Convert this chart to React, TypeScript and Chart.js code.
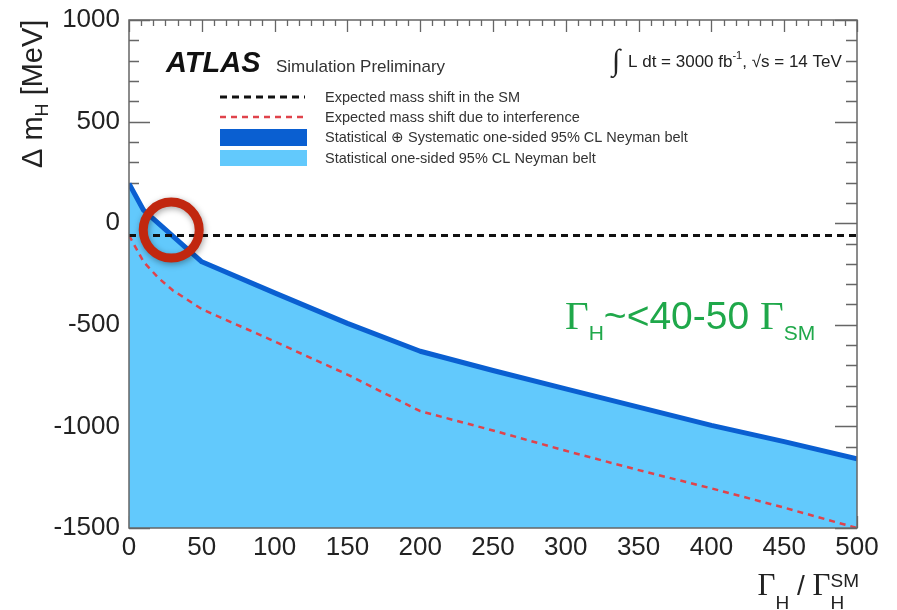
import React, { useEffect, useRef } from 'react';
import { Chart, registerables } from 'chart.js';

Chart.register(...registerables);

// ---- data ----
const xTickValues = [0, 50, 100, 150, 200, 250, 300, 350, 400, 450, 500];
const yTickValues = [-1500, -1000, -500, 0, 500, 1000];

// upper edge of the one-sided 95% CL Neyman belt (MeV) vs Gamma_H / Gamma_H^SM
const beltX = [0, 10, 50, 100, 150, 200, 250, 300, 350, 400, 450, 500];
const beltY = [195, 64, -190, -343, -493, -630, -725, -815, -905, -995, -1075, -1160];

// expected mass shift due to interference (MeV)
const interfX = [0, 5, 10, 20, 30, 50, 100, 150, 200, 250, 300, 350, 400, 450, 500];
const interfY = [-60, -125, -190, -268, -330, -423, -582, -745, -925, -1020, -1120, -1215, -1305, -1400, -1500];

// expected mass shift in the SM (MeV)
const smX = [0, 500];
const smY = [-60, -60];

// highlighted crossing point
const markerX = [29];
const markerY = [-34];

const legendLabels = [
  'Expected mass shift in the SM',
  'Expected mass shift due to interference',
  'Statistical \u2295 Systematic one-sided 95% CL Neyman belt',
  'Statistical one-sided 95% CL Neyman belt',
];

const SANS = '"Liberation Sans", Arial, Helvetica, sans-serif';
const SERIF = '"Liberation Serif", "Times New Roman", serif';
const DARK_BLUE = '#0a5fd1';
const LIGHT_BLUE = '#62c9fc';
const RED = '#e0434b';
const GREEN = '#1fa84a';

const zip = (xs: number[], ys: number[]) => xs.map((x, i) => ({ x, y: ys[i] }));

type Seg = { t: string; font: string; dy?: number; sameX?: boolean };

function drawSegs(ctx: CanvasRenderingContext2D, segs: Seg[], x: number, y: number) {
  let cx = x;
  let prevStart = x;
  for (const s of segs) {
    ctx.font = s.font;
    const start = s.sameX ? prevStart : cx;
    ctx.fillText(s.t, start, y + (s.dy || 0));
    const w = ctx.measureText(s.t).width;
    prevStart = start;
    cx = Math.max(cx, start + w);
  }
  return cx;
}

function segsWidth(ctx: CanvasRenderingContext2D, segs: Seg[]) {
  let cx = 0;
  let prevStart = 0;
  for (const s of segs) {
    ctx.font = s.font;
    const start = s.sameX ? prevStart : cx;
    const w = ctx.measureText(s.t).width;
    prevStart = start;
    cx = Math.max(cx, start + w);
  }
  return cx;
}

const overlay = {
  id: 'overlay',
  beforeDatasetsDraw(chart: any) {
    const { ctx, chartArea, scales } = chart;
    const { left, right, top, bottom } = chartArea;
    const xs = scales.x;
    const ys = scales.y;
    ctx.save();
    ctx.strokeStyle = '#666';
    ctx.lineWidth = 1.3;
    ctx.beginPath();
    const xStep = xTickValues[1] - xTickValues[0];
    const xMax = xTickValues[xTickValues.length - 1];
    const nSubX = 6;
    for (let i = 0; i <= (xMax / xStep) * nSubX; i++) {
      const v = (i * xStep) / nSubX;
      const px = Math.round(xs.getPixelForValue(v)) + 0.5;
      const major = i % nSubX === 0;
      const len = major ? 12 : 6;
      ctx.moveTo(px, top);
      ctx.lineTo(px, top + len);
      ctx.moveTo(px, bottom);
      ctx.lineTo(px, bottom - len);
    }
    const yStep = yTickValues[1] - yTickValues[0];
    const yMin = yTickValues[0];
    const yMax = yTickValues[yTickValues.length - 1];
    const nSubY = 5;
    for (let i = 0; i <= ((yMax - yMin) / yStep) * nSubY; i++) {
      const v = yMin + (i * yStep) / nSubY;
      const py = Math.round(ys.getPixelForValue(v)) + 0.5;
      const major = i % nSubY === 0;
      ctx.moveTo(left, py);
      ctx.lineTo(left + (major ? 21 : 10), py);
      ctx.moveTo(right, py);
      ctx.lineTo(right - (major ? 22 : 11), py);
    }
    ctx.stroke();
    ctx.restore();
  },
  beforeDatasetDraw(chart: any, args: any) {
    if (args.meta && args.meta.label === 'marker') {
      const ctx = chart.ctx;
      ctx.save();
      ctx.shadowColor = 'rgba(0,0,0,0.35)';
      ctx.shadowBlur = 6;
      ctx.shadowOffsetX = 1;
      ctx.shadowOffsetY = 2;
    }
  },
  afterDatasetDraw(chart: any, args: any) {
    if (args.meta && args.meta.label === 'marker') {
      chart.ctx.restore();
    }
  },
  afterDatasetsDraw(chart: any) {
    const { ctx, chartArea } = chart;
    const { left, right, top, bottom } = chartArea;
    ctx.save();
    // frame
    ctx.strokeStyle = '#666';
    ctx.lineWidth = 1.5;
    ctx.strokeRect(left, top, right - left, bottom - top);

    // ATLAS label
    ctx.fillStyle = '#111';
    ctx.textBaseline = 'alphabetic';
    ctx.textAlign = 'left';
    ctx.font = `italic bold 29px ${SANS}`;
    ctx.fillText('ATLAS', 166, 72);
    ctx.fillStyle = '#333';
    ctx.font = `17px ${SANS}`;
    ctx.fillText('Simulation Preliminary', 276, 72);

    // luminosity label
    ctx.fillStyle = '#222';
    ctx.font = `30px ${SERIF}`;
    ctx.fillText('\u222B', 612, 70);
    drawSegs(ctx, [
      { t: 'L dt = 3000 fb', font: `17px ${SANS}` },
      { t: '-1', font: `11px ${SANS}`, dy: -8 },
      { t: ', \u221As = 14 TeV', font: `17px ${SANS}` },
    ], 628, 67);

    // legend
    const lx0 = 220;
    const lx1 = 305;
    const rows = [97, 117, 137.5, 158];
    ctx.lineCap = 'butt';
    ctx.beginPath();
    ctx.setLineDash([7, 5]);
    ctx.strokeStyle = '#111';
    ctx.lineWidth = 3;
    ctx.moveTo(lx0, rows[0]);
    ctx.lineTo(lx1, rows[0]);
    ctx.stroke();
    ctx.beginPath();
    ctx.setLineDash([6, 5]);
    ctx.strokeStyle = RED;
    ctx.lineWidth = 2.5;
    ctx.moveTo(lx0, rows[1]);
    ctx.lineTo(lx1, rows[1]);
    ctx.stroke();
    ctx.setLineDash([]);
    ctx.fillStyle = DARK_BLUE;
    ctx.fillRect(lx0, rows[2] - 8.5, 87, 17);
    ctx.fillStyle = LIGHT_BLUE;
    ctx.fillRect(lx0, rows[3] - 8, 87, 16);
    ctx.fillStyle = '#333';
    ctx.font = `14.5px ${SANS}`;
    ctx.textBaseline = 'middle';
    legendLabels.forEach((lab, i) => ctx.fillText(lab, 325, rows[i] + 0.5));

    // green annotation
    ctx.textBaseline = 'alphabetic';
    ctx.fillStyle = GREEN;
    drawSegs(ctx, [
      { t: '\u0393', font: `41px ${SERIF}` },
      { t: 'H', font: `21px ${SANS}`, dy: 11 },
      { t: '~<40-50 ', font: `39px ${SANS}` },
      { t: '\u0393', font: `41px ${SERIF}` },
      { t: 'SM', font: `21px ${SANS}`, dy: 11 },
    ], 565, 329);

    // x-axis title
    ctx.fillStyle = '#222';
    const xt: Seg[] = [
      { t: '\u0393', font: `31px ${SERIF}` },
      { t: 'H', font: `19px ${SANS}`, dy: 14 },
      { t: ' / ', font: `28px ${SANS}` },
      { t: '\u0393', font: `31px ${SERIF}` },
      { t: 'SM', font: `19px ${SANS}`, dy: -8 },
      { t: 'H', font: `19px ${SANS}`, dy: 14, sameX: true },
    ];
    const xw = segsWidth(ctx, xt);
    drawSegs(ctx, xt, 859 - xw, 595);

    // y-axis title
    ctx.save();
    ctx.translate(42, 168);
    ctx.rotate(-Math.PI / 2);
    const yt: Seg[] = [
      { t: '\u0394 m', font: `29px ${SANS}` },
      { t: 'H', font: `18px ${SANS}`, dy: 6 },
      { t: ' [MeV]', font: `29px ${SANS}` },
    ];
    drawSegs(ctx, yt, 0, 0);
    ctx.restore();

    ctx.restore();
  },
};

export default function App() {
  const canvasRef = useRef<HTMLCanvasElement | null>(null);

  useEffect(() => {
    const canvas = canvasRef.current;
    if (!canvas) return;
    const chart = new Chart(canvas, {
      type: 'line',
      data: {
        datasets: [
          {
            type: 'scatter',
            label: 'marker',
            data: zip(markerX, markerY),
            pointRadius: 28,
            pointHoverRadius: 28,
            pointBorderWidth: 9,
            pointBorderColor: '#c1270f',
            pointBackgroundColor: 'rgba(0,0,0,0)',
            showLine: false,
            clip: false,
            order: 0,
          } as any,
          {
            label: legendLabels[0],
            data: zip(smX, smY),
            borderColor: '#111',
            borderWidth: 3,
            borderDash: [7, 5],
            pointRadius: 0,
            fill: false,
            order: 1,
          },
          {
            label: legendLabels[1],
            data: zip(interfX, interfY),
            borderColor: RED,
            borderWidth: 2.5,
            borderDash: [6, 5],
            pointRadius: 0,
            fill: false,
            order: 2,
          },
          {
            label: legendLabels[2],
            data: zip(beltX, beltY),
            borderColor: DARK_BLUE,
            borderWidth: 5,
            borderJoinStyle: 'round',
            pointRadius: 0,
            fill: false,
            order: 3,
          },
          {
            label: legendLabels[3],
            data: zip(beltX, beltY),
            borderWidth: 0,
            borderColor: LIGHT_BLUE,
            backgroundColor: LIGHT_BLUE,
            pointRadius: 0,
            fill: 'start',
            order: 4,
          },
        ],
      },
      options: {
        responsive: false,
        animation: false,
        events: [],
        layout: { autoPadding: false, padding: { left: 0, top: 20, right: 40, bottom: 0 } },
        plugins: {
          legend: { display: false },
          tooltip: { enabled: false },
          title: { display: false },
        },
        scales: {
          x: {
            type: 'linear',
            min: 0,
            max: 500,
            afterFit: (s: any) => {
              s.height = 82;
              s.paddingLeft = 0;
              s.paddingRight = 0;
            },
            afterBuildTicks: (s: any) => { s.ticks = xTickValues.map((v) => ({ value: v })); },
            ticks: {
              font: { size: 26, family: SANS },
              color: '#222',
              padding: 4,
              maxRotation: 0,
              autoSkip: false,
              callback: (v: any) => String(v),
            },
            grid: { display: false, drawTicks: false },
            border: { display: false },
          },
          y: {
            type: 'linear',
            min: -1500,
            max: 1000,
            afterFit: (s: any) => {
              s.width = 129;
              s.paddingTop = 0;
              s.paddingBottom = 0;
            },
            afterBuildTicks: (s: any) => { s.ticks = yTickValues.map((v) => ({ value: v })); },
            ticks: {
              font: { size: 26, family: SANS },
              color: '#222',
              padding: 9,
              autoSkip: false,
              callback: (v: any) => String(v),
            },
            grid: { display: false, drawTicks: false },
            border: { display: false },
          },
        },
      },
      plugins: [overlay],
    });
    return () => chart.destroy();
  }, []);

  return (
    <div style={{ position: 'absolute', left: 0, top: 0, width: 897, height: 610, background: '#fff' }}>
      <canvas ref={canvasRef} width={897} height={610} style={{ display: 'block' }} />
    </div>
  );
}
